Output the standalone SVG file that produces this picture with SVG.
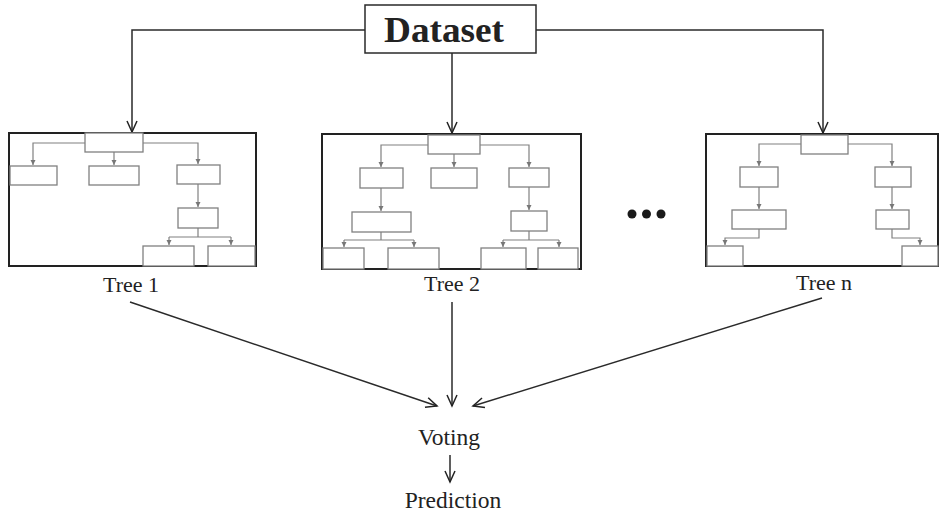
<svg xmlns="http://www.w3.org/2000/svg" width="947" height="513" viewBox="0 0 947 513">
<defs>
<marker id="bigArrow" markerWidth="14" markerHeight="12" refX="12" refY="6" orient="auto" markerUnits="userSpaceOnUse">
<path d="M1,1 L12,6 L1,11" fill="none" stroke="#222" stroke-width="1.5"/>
</marker>
<marker id="smallArrow" markerWidth="6" markerHeight="6" refX="5" refY="3" orient="auto" markerUnits="userSpaceOnUse">
<path d="M0,0.5 L5,3 L0,5.5 Z" fill="#777"/>
</marker>
</defs>
<style>
.frame{fill:#fff;stroke:#222;stroke-width:2}
.node{fill:#fff;stroke:#808080;stroke-width:1.3}
.edge{fill:none;stroke:#808080;stroke-width:1.2}
.main{fill:none;stroke:#2a2a2a;stroke-width:1.5}
.lbl{font-family:"Liberation Serif","Times New Roman",serif;fill:#222;text-anchor:middle}
</style>
<rect width="947" height="513" fill="#fff"/>

<g id="connectors">
<path class="main" d="M365,30 H132 V132" marker-end="url(#bigArrow)"/>
<path class="main" d="M536,30 H823 V133" marker-end="url(#bigArrow)"/>
<path class="main" d="M452,53 V133" marker-end="url(#bigArrow)"/>
<path class="main" d="M130,302 L437,406" marker-end="url(#bigArrow)"/>
<path class="main" d="M452,302 V406" marker-end="url(#bigArrow)"/>
<path class="main" d="M822,298 L473,406" marker-end="url(#bigArrow)"/>
<path class="main" d="M450,455 V482" marker-end="url(#bigArrow)"/>
</g>

<g id="dataset">
<rect x="365" y="5" width="171" height="48" fill="#fff" stroke="#2a2a2a" stroke-width="1.5"/>
<text x="444" y="42" class="lbl" style="font-weight:bold;font-size:35px" textLength="120" lengthAdjust="spacingAndGlyphs">Dataset</text>
</g>

<g id="tree1">
<rect class="frame" x="9" y="133" width="247" height="133"/>
<path class="edge" d="M85,143 H33 V165" marker-end="url(#smallArrow)"/>
<path class="edge" d="M114,152 V165" marker-end="url(#smallArrow)"/>
<path class="edge" d="M143,143 H198 V164" marker-end="url(#smallArrow)"/>
<path class="edge" d="M198,184 V207" marker-end="url(#smallArrow)"/>
<path class="edge" d="M198,228 V237 M169,237 H231" />
<path class="edge" d="M169,237 V245" marker-end="url(#smallArrow)"/>
<path class="edge" d="M231,237 V245" marker-end="url(#smallArrow)"/>
<rect class="node" x="85" y="133" width="58" height="19"/>
<rect class="node" x="10" y="166" width="47" height="19"/>
<rect class="node" x="89" y="166" width="50" height="19"/>
<rect class="node" x="177" y="165" width="43" height="19"/>
<rect class="node" x="178" y="208" width="40" height="20"/>
<rect class="node" x="143" y="246" width="51" height="20"/>
<rect class="node" x="208" y="246" width="47" height="20"/>
<text x="131" y="292" class="lbl" style="font-size:22px">Tree 1</text>
</g>

<g id="tree2">
<rect class="frame" x="322" y="134" width="259" height="135"/>
<path class="edge" d="M428,145 H381 V167" marker-end="url(#smallArrow)"/>
<path class="edge" d="M454,154 V167" marker-end="url(#smallArrow)"/>
<path class="edge" d="M480,145 H529 V167" marker-end="url(#smallArrow)"/>
<path class="edge" d="M381,188 V211" marker-end="url(#smallArrow)"/>
<path class="edge" d="M529,187 V210" marker-end="url(#smallArrow)"/>
<path class="edge" d="M381,232 V240 M344,240 H414"/>
<path class="edge" d="M344,240 V247" marker-end="url(#smallArrow)"/>
<path class="edge" d="M414,240 V247" marker-end="url(#smallArrow)"/>
<path class="edge" d="M529,231 V240 M503,240 H559"/>
<path class="edge" d="M503,240 V247" marker-end="url(#smallArrow)"/>
<path class="edge" d="M559,240 V247" marker-end="url(#smallArrow)"/>
<rect class="node" x="428" y="135" width="52" height="19"/>
<rect class="node" x="360" y="168" width="43" height="20"/>
<rect class="node" x="431" y="168" width="46" height="20"/>
<rect class="node" x="509" y="168" width="40" height="19"/>
<rect class="node" x="352" y="212" width="59" height="20"/>
<rect class="node" x="511" y="211" width="36" height="20"/>
<rect class="node" x="323" y="248" width="41" height="21"/>
<rect class="node" x="388" y="248" width="51" height="21"/>
<rect class="node" x="481" y="248" width="45" height="21"/>
<rect class="node" x="538" y="248" width="40" height="21"/>
<text x="452" y="291" class="lbl" style="font-size:22px">Tree 2</text>
</g>

<g id="ellipsis">
<circle cx="632" cy="214" r="4.5" fill="#1a1a1a"/>
<circle cx="646.5" cy="214" r="4.5" fill="#1a1a1a"/>
<circle cx="661" cy="214" r="4.5" fill="#1a1a1a"/>
</g>

<g id="treen">
<rect class="frame" x="706" y="134" width="232" height="132"/>
<path class="edge" d="M801,144 H759 V166" marker-end="url(#smallArrow)"/>
<path class="edge" d="M848,144 H892 V166" marker-end="url(#smallArrow)"/>
<path class="edge" d="M759,187 V209" marker-end="url(#smallArrow)"/>
<path class="edge" d="M892,187 V209" marker-end="url(#smallArrow)"/>
<path class="edge" d="M759,229 V238 H725 V245" marker-end="url(#smallArrow)"/>
<path class="edge" d="M892,229 V238 H920 V245" marker-end="url(#smallArrow)"/>
<rect class="node" x="801" y="135" width="47" height="19"/>
<rect class="node" x="740" y="167" width="38" height="20"/>
<rect class="node" x="875" y="167" width="36" height="20"/>
<rect class="node" x="732" y="210" width="54" height="19"/>
<rect class="node" x="876" y="210" width="33" height="19"/>
<rect class="node" x="707" y="246" width="36" height="20"/>
<rect class="node" x="902" y="246" width="36" height="20"/>
<text x="824" y="290" class="lbl" style="font-size:22px">Tree n</text>
</g>

<g id="voting">
<text x="449" y="445" class="lbl" style="font-size:23.5px">Voting</text>
</g>
<g id="prediction">
<text x="453" y="508" class="lbl" style="font-size:23.5px">Prediction</text>
</g>
</svg>
